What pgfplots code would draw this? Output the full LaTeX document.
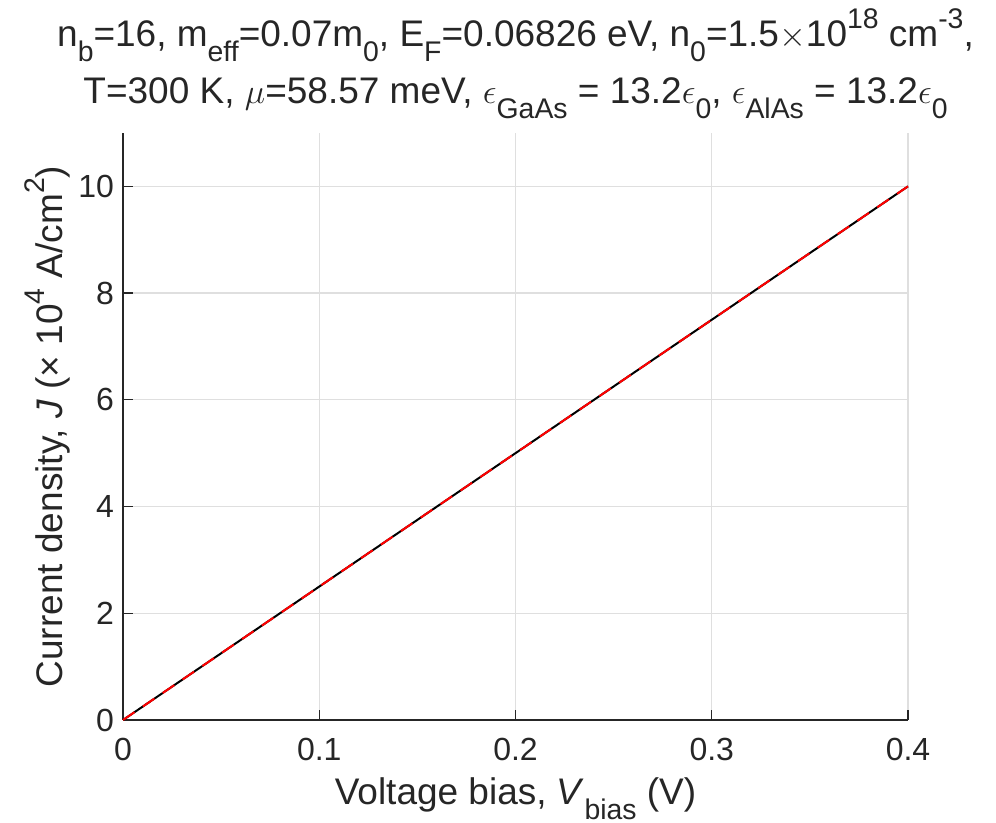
\documentclass[border=0pt]{standalone}
\usepackage{fontspec}
\setmainfont{Liberation Sans}
\usepackage{pgfplots}
\pgfplotsset{compat=1.18}
\definecolor{txt}{HTML}{262626}
\definecolor{gridc}{HTML}{DFDFDF}
\newcommand\sub[1]{\raisebox{-0.4em}{\fontsize{14.2}{14.2}\selectfont #1}}
\newcommand\sups[1]{\raisebox{0.5em}{\fontsize{14.2}{14.2}\selectfont #1}}
\begin{document}
\begin{tikzpicture}
\useasboundingbox (-61.5pt,-51.5pt) rectangle (436.5pt,360pt);
\begin{axis}[
  name=ax,
  at={(0,0)}, anchor=south west,
  scale only axis,
  width=392.5pt, height=293.5pt,
  xmin=0, xmax=0.4, ymin=0, ymax=11,
  xtick={0,0.1,0.2,0.3,0.4},
  xticklabels={0,0.1,0.2,0.3,0.4},
  ytick={0,2,4,6,8,10},
  axis x line*=bottom, axis y line*=left,
  axis line style={-, draw=txt, line width=0.6pt},
  tick align=inside,
  major tick length=5pt,
  tick style={draw=txt, line width=0.6pt},
  grid=major,
  major grid style={draw=gridc, line width=0.6pt},
  ticklabel style={font=\fontsize{16}{16}\selectfont, text=txt},
  /pgf/number format/assume math mode=true,
  xticklabel shift=5.5pt,
  yticklabel shift=1pt,
  xlabel={Voltage bias, \textit{V}\sub{bias} (V)},
  ylabel={Current density, \textit{J} (× 10\sups{4} A/cm\sups{2})},
  label style={font=\fontsize{18.5}{18.5}\selectfont, text=txt},
  xlabel style={at={(axis description cs:0.5,0)}, anchor=base, yshift=-42.5pt},
  ylabel style={at={(axis description cs:0,0.5)}, anchor=base, yshift=30pt},
  clip=false,
]
\addplot[black, line width=1pt] coordinates {
(0,0) (0.05,1.25) (0.1,2.5) (0.15,3.75) (0.2,5.0) (0.25,6.25) (0.3,7.5) (0.35,8.75) (0.4,10.0)};
\addplot[red, line width=1pt, dash pattern=on 7pt off 5pt] coordinates {
(0,0) (0.05,1.25) (0.1,2.5) (0.15,3.75) (0.2,5.0) (0.25,6.25) (0.3,7.5) (0.35,8.75) (0.4,10.0)};
\end{axis}
\node[anchor=base, font=\fontsize{18.5}{18.5}\selectfont, text=txt] at ([yshift=43pt]ax.north)
 {n\sub{b}=16, m\sub{eff}=0.07m\sub{0}, E\sub{F}=0.06826 eV, n\sub{0}=1.5$\times$10\sups{18} cm\sups{-3},};
\node[anchor=base, font=\fontsize{18.5}{18.5}\selectfont, text=txt] at ([yshift=14.5pt]ax.north)
 {T=300 K, $\mu$=58.57 meV, $\epsilon$\sub{GaAs} = 13.2$\epsilon$\sub{0}, $\epsilon$\sub{AlAs} = 13.2$\epsilon$\sub{0}};
\end{tikzpicture}
\end{document}
